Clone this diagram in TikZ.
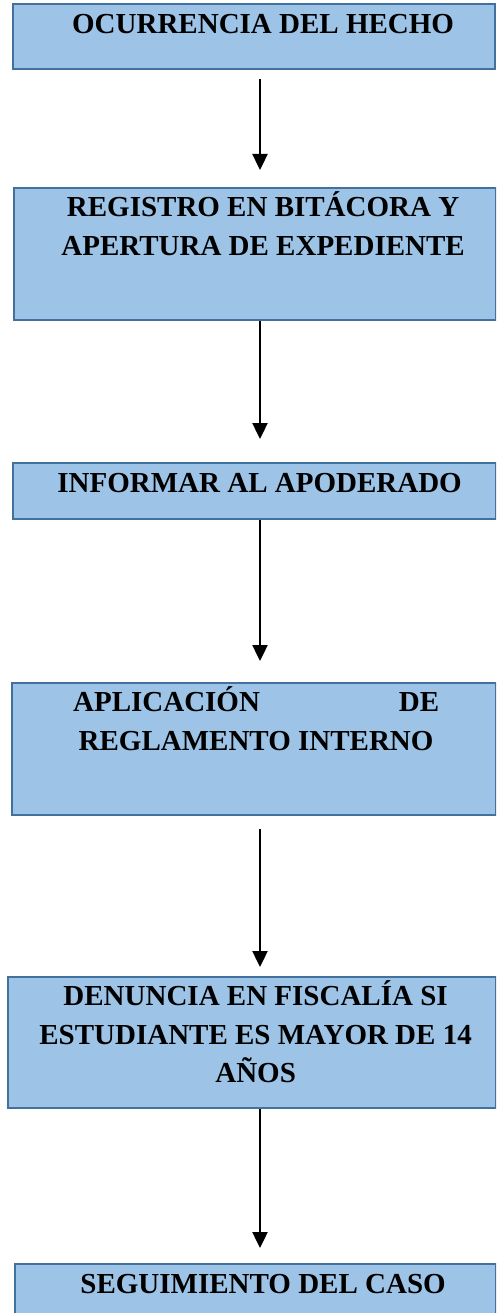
\documentclass[tikz,border=0pt]{standalone}
\usepackage{fontspec}
\setmainfont{Liberation Serif}
\usetikzlibrary{arrows.meta,positioning,calc}
\definecolor{boxfill}{HTML}{9DC3E6}
\definecolor{boxline}{HTML}{41719C}

\begin{document}
\begin{tikzpicture}[x=1pt,y=-1pt,
  stepbox/.style={draw=boxline,fill=boxfill,line width=2.2pt,anchor=north west,inner sep=0pt},
  steptext/.style={anchor=north,inner sep=0pt,align=center,font=\fontsize{29}{38.5}\selectfont\bfseries},
  flow/.style={-{Triangle[width=15pt,length=16pt]},line width=2.4pt}]
  \clip (0,0) rectangle (496,1313);
  % boxes
  \node[stepbox,minimum width=482pt,minimum height=65pt] (hecho) at (12,3) {};
  \node[stepbox,minimum width=482pt,minimum height=132pt] (registro) at (13,187) {};
  \node[stepbox,minimum width=483pt,minimum height=56pt] (apoderado) at (12,462) {};
  \node[stepbox,minimum width=484pt,minimum height=132pt] (reglamento) at (11,682) {};
  \node[stepbox,minimum width=488pt,minimum height=131pt] (denuncia) at (7,976) {};
  \node[stepbox,minimum width=481pt,minimum height=80pt] (seguimiento) at (14,1263) {};
  % texts
  \node[steptext] (t1) at ($(hecho.north)+(9,3)$) {\strut OCURRENCIA DEL HECHO};
  \node[steptext] (t2) at ($(registro.north)+(8,2.5)$) {\strut REGISTRO EN BITÁCORA Y\\APERTURA DE EXPEDIENTE};
  \node[steptext] (t3) at ($(apoderado.north)+(5,3)$) {\strut INFORMAR AL APODERADO};
  \node[steptext] (t4) at ($(reglamento.north)+(2,2.5)$) {\strut\makebox[366pt]{APLICACIÓN\hfill DE}\\REGLAMENTO INTERNO};
  \node[steptext] (t5) at ($(denuncia.north)+(3.5,2.5)$) {\strut DENUNCIA EN FISCALÍA SI\\ESTUDIANTE ES MAYOR DE 14\\AÑOS};
  \node[steptext] (t6) at ($(seguimiento.north)+(7.5,3)$) {\strut SEGUIMIENTO DEL CASO};
  % arrows
  \coordinate (ax) at (260,0);
  \draw[flow,shorten <=9pt,shorten >=17pt] (hecho.south -| ax) -- (registro.north -| ax);
  \draw[flow,shorten >=23pt] (registro.south -| ax) -- (apoderado.north -| ax);
  \draw[flow,shorten >=21pt] (apoderado.south -| ax) -- (reglamento.north -| ax);
  \draw[flow,shorten <=13pt,shorten >=9pt] (reglamento.south -| ax) -- (denuncia.north -| ax);
  \draw[flow,shorten >=15pt] (denuncia.south -| ax) -- (seguimiento.north -| ax);
\end{tikzpicture}
\end{document}
